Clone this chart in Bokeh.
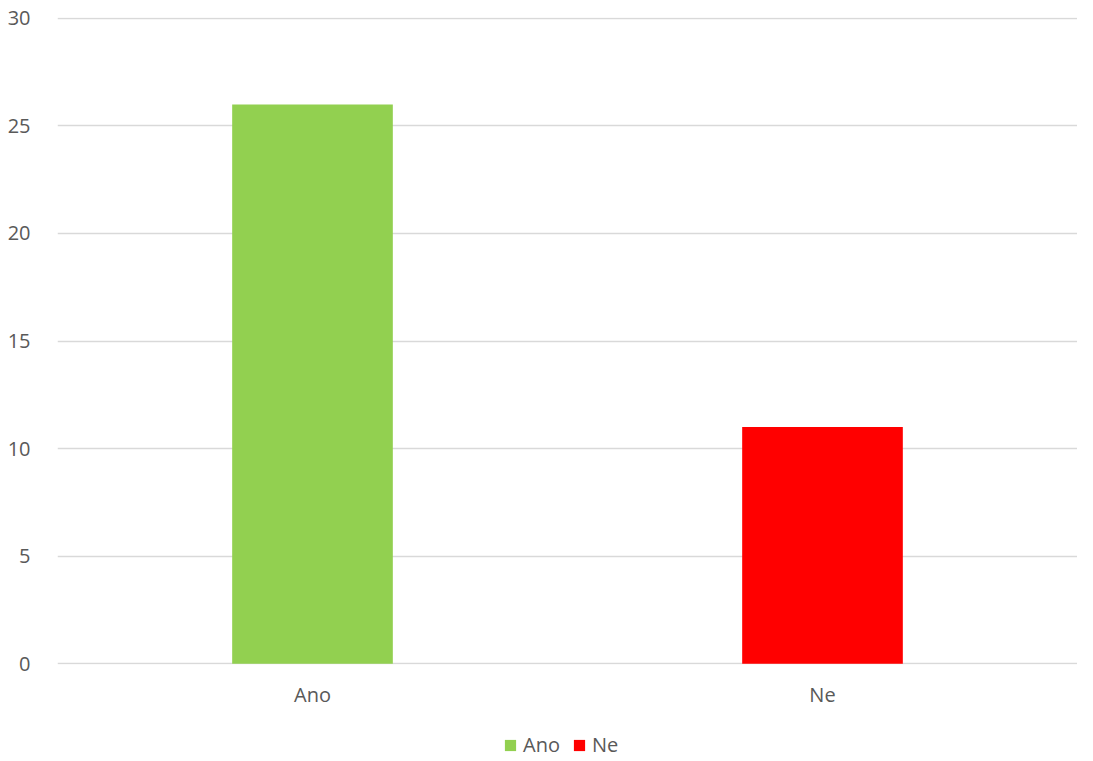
from bokeh.plotting import figure
from bokeh.layouts import column
from bokeh.models import ColumnDataSource, Legend, LegendItem, Range1d, FactorRange
from bokeh.embed import file_html
from bokeh.resources import INLINE

categories = ["Ano", "Ne"]
values = [26, 11]
colors = ["#92D050", "#FF0000"]
y_ticks = [0, 5, 10, 15, 20, 25, 30]

TEXT = "#595959"
FONT = "Open Sans"

src = ColumnDataSource(dict(cat=categories, val=values, color=colors))

p = figure(x_range=FactorRange(*categories, range_padding=0), y_range=Range1d(-0.04, 30.04),
           width=1077, height=712, output_backend="svg", toolbar_location=None,
           min_border_left=57, min_border_top=17, min_border_right=0, min_border_bottom=48)
p.outline_line_color = None
p.background_fill_color = "white"
p.border_fill_color = "white"

r = p.vbar(x="cat", top="val", width=0.315, color="color", source=src, line_color=None)

p.xgrid.grid_line_color = None
p.ygrid.grid_line_color = "#D9D9D9"
p.ygrid.grid_line_width = 1.5
p.yaxis.ticker = y_ticks

for ax in (p.xaxis[0], p.yaxis[0]):
    ax.axis_line_color = None
    ax.major_tick_line_color = None
    ax.minor_tick_line_color = None
    ax.major_tick_out = 0
    ax.major_tick_in = 0
    ax.major_label_text_color = TEXT
    ax.major_label_text_font = FONT
    ax.major_label_text_font_size = "20px"
p.yaxis.major_label_standoff = 27
p.xaxis.major_label_standoff = 16

# Legend strip below the chart (its own small figure, bars kept out of view)
lg = figure(x_range=FactorRange(*categories), y_range=Range1d(100, 200),
            width=1077, height=46, output_backend="svg", toolbar_location=None,
            x_axis_location=None, y_axis_location=None, min_border=0)
lg.outline_line_color = None
lg.grid.visible = False
lr = lg.vbar(x="cat", top="val", width=0.315, color="color", source=src, line_color=None)

legend = Legend(items=[LegendItem(label=c, renderers=[lr], index=i) for i, c in enumerate(categories)],
                orientation="horizontal", location=(446, 0),
                label_text_font=FONT, label_text_font_size="20px", label_text_color=TEXT,
                glyph_width=14, glyph_height=14, spacing=12, label_standoff=6, label_height=20,
                border_line_color=None, background_fill_alpha=0, margin=0, padding=0)
lg.add_layout(legend, "center")

layout = column(p, lg, spacing=0)
open("out.html", "w").write(file_html(layout, INLINE))
